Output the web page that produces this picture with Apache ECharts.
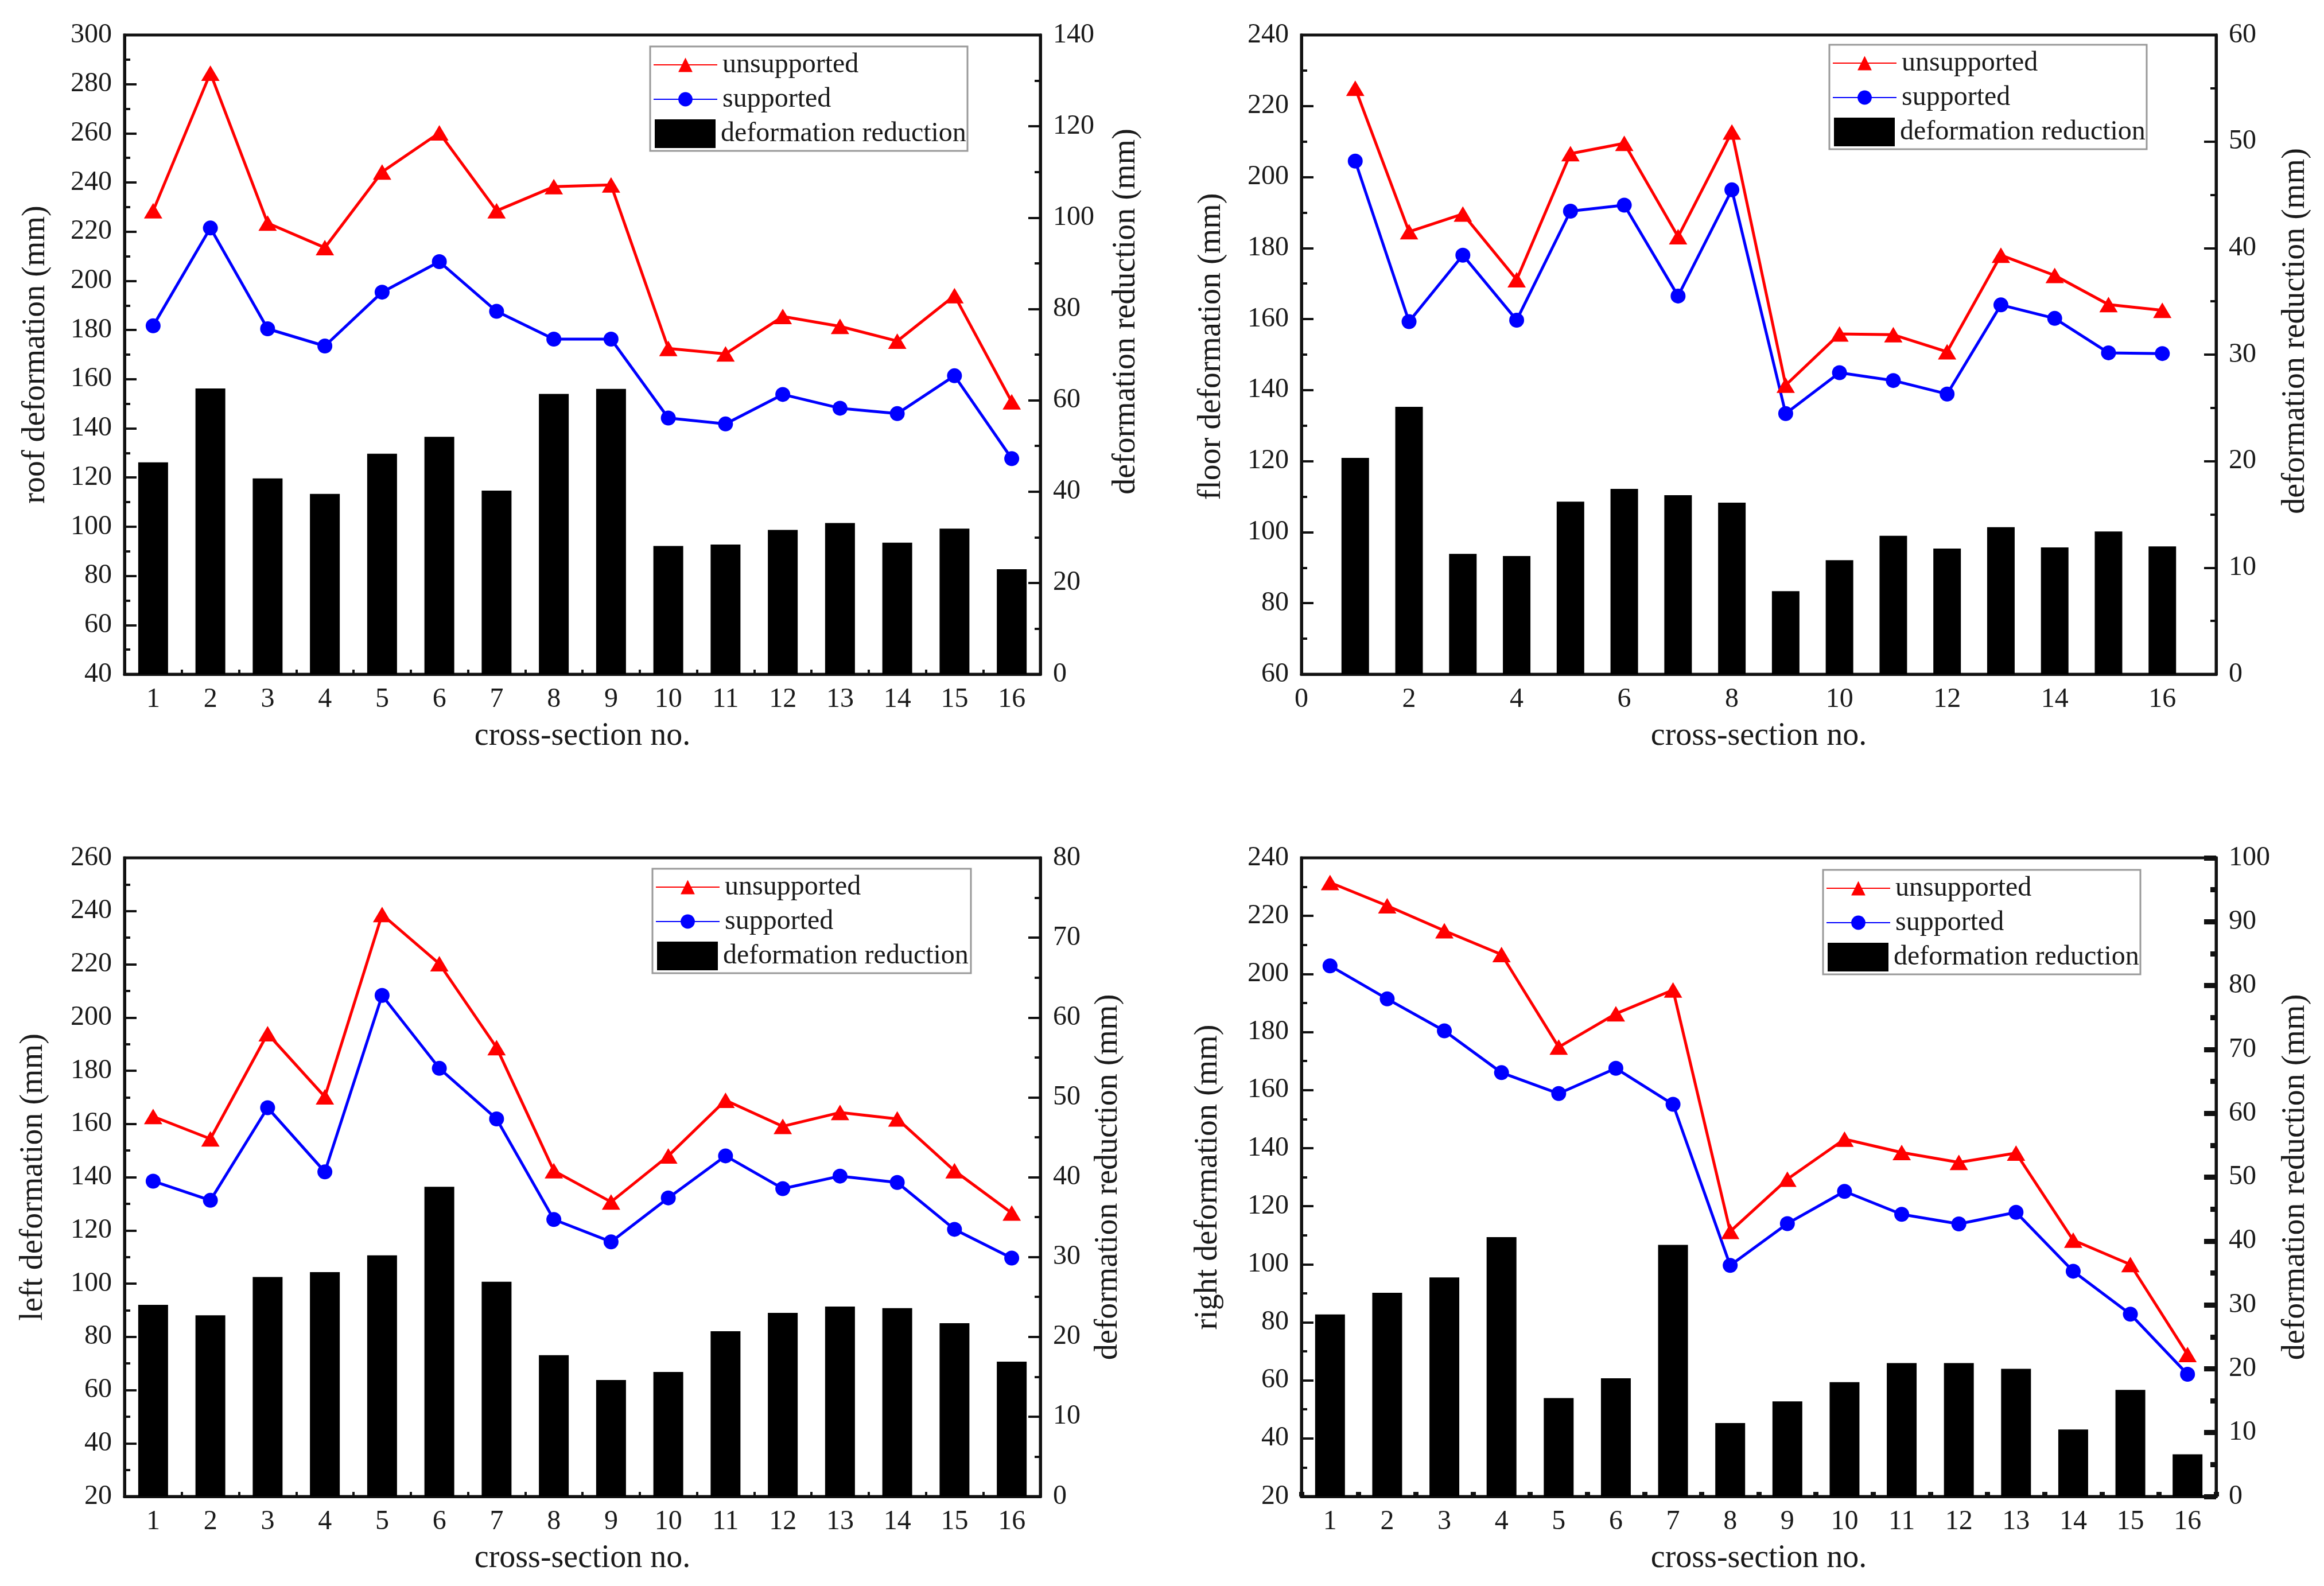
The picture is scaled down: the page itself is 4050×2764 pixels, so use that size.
<!DOCTYPE html>
<html><head><meta charset="utf-8">
<script src="https://cdn.jsdelivr.net/npm/echarts@6/dist/echarts.min.js"></script>
<style>html,body{margin:0;padding:0;background:#fff}#c{width:4050px;height:2764px}</style>
</head><body><div id="c"></div>
<script>
// ---------- data ----------
const sections = [1,2,3,4,5,6,7,8,9,10,11,12,13,14,15,16];

const roofUnsupported = [228.5, 284.5, 223.5, 213.5, 244.3, 260.2, 228.5, 238.3, 239.0, 172.5, 170.3, 185.5, 181.5, 175.5, 194.0, 150.8];
const roofSupported   = [181.7, 221.5, 180.5, 173.5, 195.4, 207.8, 187.6, 176.3, 176.3, 144.2, 141.8, 153.8, 148.2, 146.0, 161.4, 127.7];
const roofReduction   = [46.4, 62.6, 42.9, 39.5, 48.3, 52.0, 40.2, 61.4, 62.5, 28.1, 28.4, 31.6, 33.1, 28.8, 31.9, 23.0];

const floorUnsupported = [225.0, 184.6, 189.6, 171.1, 206.6, 209.5, 183.2, 212.7, 141.4, 155.8, 155.6, 150.8, 178.0, 172.3, 164.1, 162.5];
const floorSupported   = [204.5, 159.3, 178.0, 159.7, 190.4, 192.1, 166.5, 196.4, 133.4, 144.9, 142.7, 138.9, 164.0, 160.2, 150.5, 150.3];
const floorReduction   = [20.3, 25.1, 11.3, 11.1, 16.2, 17.4, 16.8, 16.1, 7.8, 10.7, 13.0, 11.8, 13.8, 11.9, 13.4, 12.0];

const leftUnsupported = [162.8, 154.4, 193.9, 170.2, 238.7, 220.2, 188.7, 142.4, 130.7, 148.0, 168.9, 159.1, 164.3, 161.9, 142.4, 126.5];
const leftSupported   = [138.5, 131.3, 166.1, 142.0, 208.3, 180.9, 161.9, 124.1, 115.7, 132.2, 148.0, 135.7, 140.4, 138.0, 120.4, 109.6];
const leftReduction   = [24.0, 22.7, 27.5, 28.1, 30.2, 38.8, 26.9, 17.7, 14.6, 15.6, 20.7, 23.0, 23.8, 23.6, 21.7, 16.9];

const rightUnsupported = [231.5, 223.5, 214.9, 206.7, 174.8, 186.3, 194.5, 111.3, 129.3, 143.1, 138.5, 135.1, 138.3, 108.3, 99.9, 68.9];
const rightSupported   = [202.8, 191.4, 180.4, 166.0, 158.8, 167.5, 155.1, 99.6, 114.0, 125.1, 117.2, 113.9, 117.9, 97.6, 82.8, 62.1];
const rightReduction   = [28.5, 31.9, 34.3, 40.6, 15.4, 18.5, 39.4, 11.5, 14.9, 17.9, 20.9, 20.9, 20.0, 10.5, 16.7, 6.6];

// axis ranges [min, max, interval]
const roofLeftAxis = [40, 300, 20],  roofRightAxis = [0, 140, 20];
const floorLeftAxis = [60, 240, 20], floorRightAxis = [0, 60, 10];
const leftLeftAxis = [20, 260, 20],  leftRightAxis = [0, 80, 10];
const rightLeftAxis = [20, 240, 20], rightRightAxis = [0, 100, 10];
const floorXAxis = [0, 17, 2];

const xTitle = 'cross-section no.';
const rightTitle = 'deformation reduction (mm)';
const names = ['unsupported', 'supported', 'deformation reduction'];

// ---------- layout ----------
const FONT = '"Liberation Serif", "Times New Roman", serif';
const TXT = '#1a1a1a';
const panels = [
  {title:'roof deformation (mm)', grid:[217,61,1596,1114], yl:roofLeftAxis, yr:roofRightAxis,
   u:roofUnsupported, s:roofSupported, r:roofReduction, xval:false, lg:127, rg:121, lShift:0, rShift:75,
   box:[1133,81,553,182], barW:52, thick:false},
  {title:'floor deformation (mm)', grid:[2268,61,1594,1114], yl:floorLeftAxis, yr:floorRightAxis,
   u:floorUnsupported, s:floorSupported, r:floorReduction, xval:true, lg:129, rg:110, lShift:14, rShift:41,
   box:[3188,78,553,182], barW:48, thick:false},
  {title:'left deformation (mm)', grid:[217,1495,1596,1113], yl:leftLeftAxis, yr:leftRightAxis,
   u:leftUnsupported, s:leftSupported, r:leftReduction, xval:false, lg:131, rg:90, lShift:0, rShift:0,
   box:[1137,1514,555,182], barW:52, thick:false},
  {title:'right deformation (mm)', grid:[2268,1495,1594,1113], yl:rightLeftAxis, yr:rightRightAxis,
   u:rightUnsupported, s:rightSupported, r:rightReduction, xval:false, lg:135, rg:110, lShift:0, rShift:0,
   box:[3177,1516,553,182], barW:52, thick:true}
];

const grids = [], xAxes = [], yAxes = [], series = [], legends = [], graphics = [];

function yAxis(gi, rng, pos, name, gap, shift, thick) {
  return {
    type:'value', gridIndex:gi, position:pos, min:rng[0], max:rng[1], interval:rng[2],
    name:name, nameLocation:'middle', nameGap:gap, nameRotate:90,
    nameTextStyle:{fontSize:56, fontFamily:FONT, color:TXT, padding:[0,0,0,shift*2]},
    axisLine:{show:true, onZero:false, lineStyle:{color:'#111', width:5}},
    axisTick:{show:true, inside:true, length:21, lineStyle:{color:'#111', width:thick?9:4}},
    minorTick:{show:true, splitNumber:2, length:10, lineStyle:{color:'#111', width:thick?9:4}},
    splitLine:{show:false},
    axisLabel:{fontSize:48, fontFamily:FONT, color:TXT, margin:22}
  };
}

panels.forEach((p, i) => {
  grids.push({left:p.grid[0], top:p.grid[1], width:p.grid[2], height:p.grid[3],
    show:true, borderColor:'#111', borderWidth:5, backgroundColor:'transparent', containLabel:false});
  const common = {
    gridIndex:i, name:xTitle, nameLocation:'middle', nameGap:80,
    nameTextStyle:{fontSize:56, fontFamily:FONT, color:TXT},
    axisLine:{show:true, onZero:false, lineStyle:{color:'#111', width:5}},
    splitLine:{show:false},
    axisLabel:{fontSize:48, fontFamily:FONT, color:TXT, margin:20}
  };
  if (p.xval) {
    xAxes.push(Object.assign({}, common, {
      type:'value', min:floorXAxis[0], max:floorXAxis[1], interval:floorXAxis[2],
      axisTick:{show:true, inside:true, length:21, lineStyle:{color:'#111', width:4}},
      minorTick:{show:true, splitNumber:2, length:10, lineStyle:{color:'#111', width:4}},
      axisLabel:Object.assign({}, common.axisLabel, {showMaxLabel:false,
        formatter: v => (v % 2 === 0 && v <= 16) ? String(v) : ''})
    }));
  } else {
    xAxes.push(Object.assign({}, common, {
      type:'category', data:sections.map(String), boundaryGap:true,
      axisTick:{show:true, inside:true, length:8, alignWithLabel:false,
        lineStyle:{color:'#111', width:p.thick?9:4}}
    }));
  }
  const yl = yAxes.length;
  yAxes.push(yAxis(i, p.yl, 'left', p.title, p.lg, p.lShift, false));
  yAxes.push(yAxis(i, p.yr, 'right', rightTitle, p.rg, p.rShift, p.thick));

  const pts = arr => p.xval ? sections.map((s, k) => [s, arr[k]]) : arr.slice();
  series.push({
    type:'bar', name:names[2], xAxisIndex:i, yAxisIndex:yl+1, data:pts(p.r),
    barWidth:p.barW, itemStyle:{color:'#000'}, z:2
  });
  series.push({
    type:'line', name:names[0], xAxisIndex:i, yAxisIndex:yl, data:pts(p.u),
    symbol:'triangle', symbolSize:[32,27], lineStyle:{color:'#ff0000', width:5},
    itemStyle:{color:'#ff0000'}, z:4
  });
  series.push({
    type:'line', name:names[1], xAxisIndex:i, yAxisIndex:yl, data:pts(p.s),
    symbol:'circle', symbolSize:26, lineStyle:{color:'#0000ff', width:5},
    itemStyle:{color:'#0000ff'}, z:4
  });

  const [bx, by, bw, bh] = p.box;
  legends.push({
    data:[names[0], names[1]], orient:'vertical', left:bx+5, top:by+8, padding:0,
    itemWidth:111, itemHeight:31, itemGap:12, selectedMode:false,
    textStyle:{fontSize:48, fontFamily:FONT, color:TXT, padding:[0,0,0,4]}
  });
  legends.push({
    data:[{name:names[2], icon:'rect'}], icon:'rect', orient:'vertical', left:bx+8, top:by+127, padding:0,
    itemWidth:106, itemHeight:50, selectedMode:false,
    itemStyle:{borderRadius:0},
    textStyle:{fontSize:48, fontFamily:FONT, color:TXT, padding:[0,0,0,4]}
  });
  graphics.push({
    type:'rect', shape:{x:bx, y:by, width:bw, height:bh},
    style:{fill:'none', stroke:'#999', lineWidth:3}, z:10
  });
});

const chart = echarts.init(document.getElementById('c'), null, {renderer:'canvas'});
chart.setOption({
  backgroundColor:'#fff', animation:false,
  grid:grids, xAxis:xAxes, yAxis:yAxes, series:series, legend:legends, graphic:graphics
});
</script></body></html>
